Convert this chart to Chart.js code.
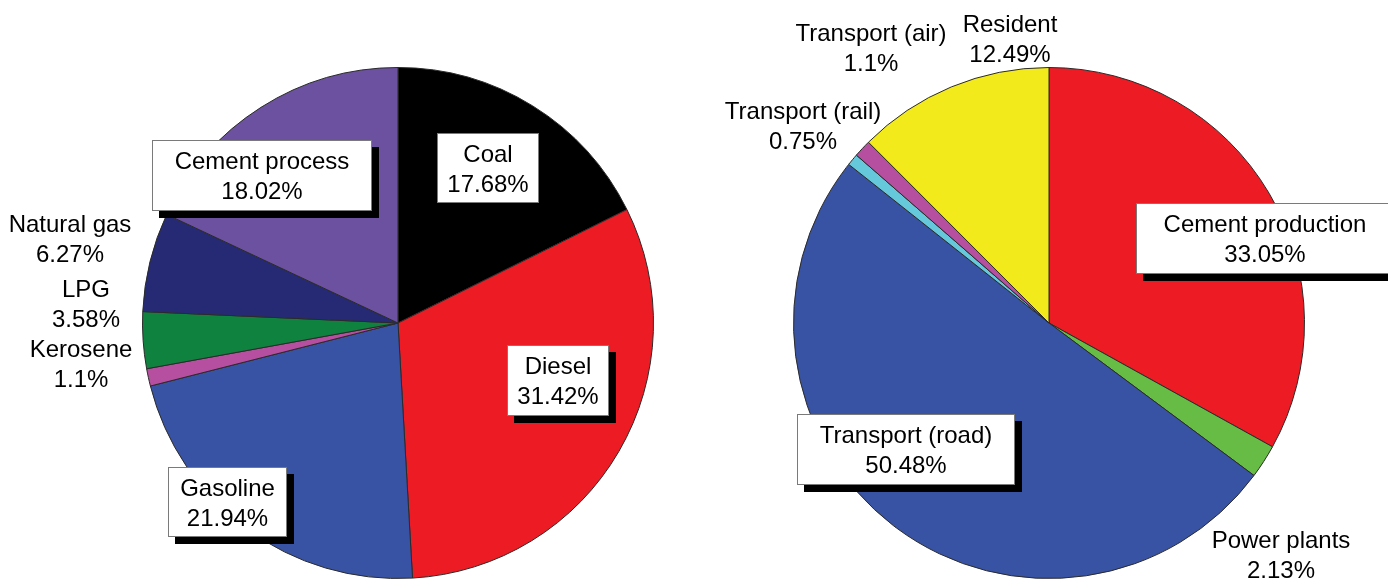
<!DOCTYPE html>
<html>
<head>
<meta charset="utf-8">
<script src="https://cdn.jsdelivr.net/npm/chart.js@4.4.1/dist/chart.umd.min.js"></script>
<style>
  html,body{margin:0;padding:0;background:#fff;}
  #wrap{position:relative;width:1388px;height:580px;overflow:hidden;}
  canvas{position:absolute;top:0;}
  #cFuel{left:0;}
  #cSector{left:694px;}
</style>
</head>
<body>
<div id="wrap">
  <canvas id="cFuel" width="694" height="580"></canvas>
  <canvas id="cSector" width="694" height="580"></canvas>
</div>
<script>
// left pie: by fuel
const fuelLabels = ['Coal','Diesel','Gasoline','Kerosene','LPG','Natural gas','Cement process'];
const fuelValues = [17.68, 31.42, 21.94, 1.1, 3.58, 6.27, 18.02];
const fuelColors = ['#000000','#ED1C24','#3853A4','#B64FA0','#10823F','#262A74','#6B51A0'];

// right pie: by sector
const sectorLabels = ['Cement production','Power plants','Transport (road)','Transport (rail)','Transport (air)','Resident'];
const sectorValues = [33.05, 2.13, 50.48, 0.75, 1.1, 12.49];
const sectorColors = ['#ED1C24','#67BC45','#3853A4','#66C9DB','#B64FA0','#F2EA1B'];

// label placement, relative to the pie centre (box = white framed label with shadow)
const fuelTags = [
  {dx:90,   dy:-155,  box:[102,70]},
  {dx:160,  dy:57.5,  box:[102,71]},
  {dx:-170.5,dy:179,  box:[119,70]},
  {dx:-317, dy:40},
  {dx:-312, dy:-19.5},
  {dx:-328, dy:-85},
  {dx:-136, dy:-147.5,box:[220,71]}
];
const sectorTags = [
  {dx:216,  dy:-84.5, box:[258,71]},
  {dx:232,  dy:231.5},
  {dx:-143, dy:126.5, box:[218,71]},
  {dx:-246, dy:-197.5},
  {dx:-178, dy:-275.5},
  {dx:-39,  dy:-285}
];

const FONT = '24px "Liberation Sans", Arial, sans-serif';

const tagPlugin = {
  id:'tags',
  afterDatasetsDraw(chart, args, opts){
    const ctx = chart.ctx;
    const arc = chart.getDatasetMeta(0).data[0];
    const cx = arc.x, cy = arc.y;
    const labels = chart.data.labels, vals = chart.data.datasets[0].data;
    ctx.save();
    ctx.font = FONT;
    ctx.textAlign = 'center';
    ctx.textBaseline = 'alphabetic';
    opts.tags.forEach((t,i)=>{
      const x = cx + t.dx, y = cy + t.dy;
      if(t.box){
        const [w,h] = t.box;
        const bx = Math.round(x - w/2), by = Math.round(y - h/2);
        ctx.fillStyle = '#000';
        ctx.fillRect(bx+7, by+7, w, h);
        ctx.fillStyle = '#fff';
        ctx.fillRect(bx, by, w, h);
        ctx.strokeStyle = '#7a7a7a';
        ctx.lineWidth = 1;
        ctx.strokeRect(bx+0.5, by+0.5, w-1, h-1);
      }
      ctx.fillStyle = '#000';
      ctx.fillText(labels[i], x, y - 15 + 8.5);
      ctx.fillText(vals[i] + '%', x, y + 15 + 8.5);
    });
    ctx.restore();
  }
};

function makePie(id, labels, values, colors, tags, pad){
  return new Chart(document.getElementById(id), {
    type:'pie',
    data:{labels, datasets:[{data:values, backgroundColor:colors, borderColor:'#2a2a2a', borderWidth:1}]},
    options:{
      responsive:false, animation:false,
      layout:{padding:pad},
      plugins:{legend:{display:false}, tooltip:{enabled:false}, tags:{tags}},
      events:[]
    },
    plugins:[tagPlugin]
  });
}

makePie('cFuel', fuelLabels, fuelValues, fuelColors, fuelTags, {left:142, right:40, top:67, bottom:1});
makePie('cSector', sectorLabels, sectorValues, sectorColors, sectorTags, {left:99, right:83, top:67, bottom:1});
</script>
</body>
</html>
